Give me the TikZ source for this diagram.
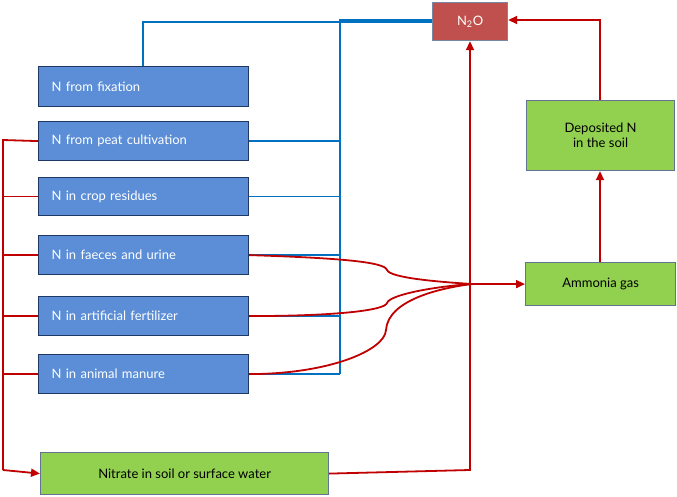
\documentclass[tikz,border=0pt]{standalone}
\usepackage{fontspec}
\setmainfont{Lato}
\usetikzlibrary{arrows.meta}
\definecolor{bfill}{HTML}{5B8ED6}
\definecolor{bdraw}{HTML}{1F3864}
\definecolor{gfill}{HTML}{92D050}
\definecolor{rfill}{HTML}{C0504D}
\definecolor{rline}{HTML}{C00000}
\definecolor{bline}{HTML}{0070C0}
\begin{document}
\begin{tikzpicture}[x=1pt,y=-1pt,
 box/.style={draw=bdraw,line width=1.2pt,fill=bfill,text=white,font=\fontsize{13}{15}\selectfont,inner sep=0pt,anchor=north west},
 gbox/.style={draw=bdraw!70,line width=1.2pt,fill=gfill,text=black,font=\fontsize{13}{15}\selectfont,inner sep=0pt,align=center,anchor=north west},
 bl/.style={bline,line width=1.8pt},
 rl/.style={rline,line width=1.8pt},
 ra/.style={rline,line width=1.8pt,-{Triangle[length=9pt,width=8pt]}}]
\useasboundingbox (0,0) rectangle (677,497);
\node[box,minimum width=210,minimum height=40,text width=200,align=left] (fix) at (38,66) {\hspace*{8pt}N from fixation};
\node[box,minimum width=210,minimum height=39,text width=200,align=left] (peat) at (38,121) {\hspace*{8pt}N from peat cultivation};
\node[box,minimum width=210,minimum height=38,text width=200,align=left] (crop) at (38,177) {\hspace*{8pt}N in crop residues};
\node[box,minimum width=210,minimum height=39,text width=200,align=left] (fae) at (38,235) {\hspace*{8pt}N in faeces and urine};
\node[box,minimum width=210,minimum height=39,text width=200,align=left] (art) at (38,296) {\hspace*{8pt}N in artificial fertilizer};
\node[box,minimum width=210,minimum height=39,text width=200,align=left] (man) at (38,354) {\hspace*{8pt}N in animal manure};
\node[draw=bdraw!60,line width=1.2pt,fill=rfill,text=white,font=\fontsize{13}{15}\selectfont,inner sep=0pt,minimum width=75,minimum height=38,anchor=north west] (n2o) at (432,2) {N\textsubscript{2}O};
\node[gbox,minimum width=148,minimum height=70] (dep) at (526,100) {Deposited N\\in the soil};
\node[gbox,minimum width=150,minimum height=43] (amm) at (525,262) {Ammonia gas};
\node[gbox,minimum width=288,minimum height=42] (nit) at (40,452) {Nitrate in soil or surface water};
\coordinate (bus) at (340,20);
% blue
\draw[bl] (fix.north -| 143,0) -- (143,22) -- (432,22);
\draw[bl] (340,374) -- (340,20) -- (n2o.west |- 0,20);
\foreach \n in {peat,crop,fae,art,man} \draw[bl] (\n.east) -- (\n.east -| bus);
% red
\draw[rl] (peat.west) -- (3,140) -- (3,470);
\foreach \n in {crop,fae,art,man} \draw[rl] (\n.west) -- (\n.west -| 3,0);
\draw[ra] (3,470) -- (nit.west);
\draw[ra] (nit.east) -- (470,470) -- (n2o.south -| 470,0);
\draw[ra] (amm.north -| 600,0) -- (dep.south -| 600,0);
\draw[ra] (dep.north -| 600,0) -- (600,20) -- (n2o.east |- 0,20);
\coordinate (m) at (472,284);
\draw[rl] (fae.east) .. controls (340,258) and (385,262) .. (387,270) .. controls (390,278) and (440,282) .. (m);
\draw[rl] (art.east) .. controls (340,316) and (385,310) .. (387,303) .. controls (390,294) and (440,286) .. (m);
\draw[rl] (man.east) .. controls (330,374) and (385,350) .. (386,330) .. controls (388,300) and (440,288) .. (m);
\draw[ra] (m) -- (amm.west);
\end{tikzpicture}
\end{document}
